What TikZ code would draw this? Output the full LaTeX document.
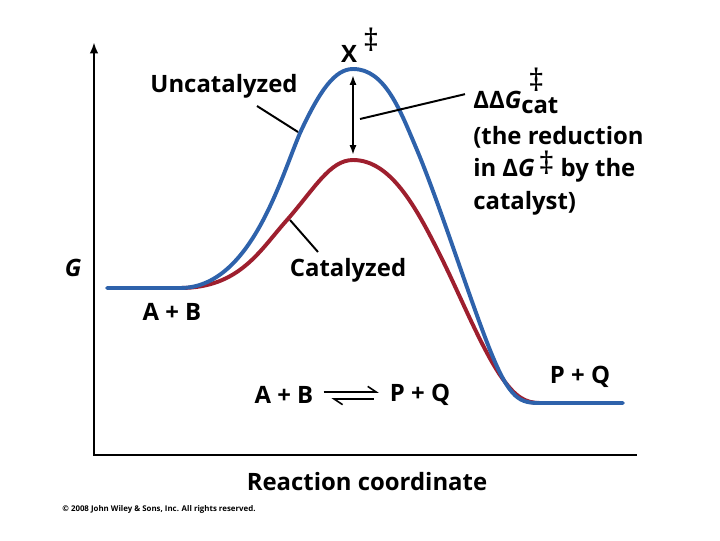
\documentclass[tikz,border=0pt]{standalone}
\usepackage{fontspec}
\setmainfont{Open Sans}
\usetikzlibrary{
	arrows.meta,
	positioning
}
\definecolor{UncatBlue}{RGB}{46,98,171}
\definecolor{CatRed}{RGB}{158,31,46}
\newcommand{\bigdag}{{\mdseries\fontsize{22}{22}\selectfont ‡}}

\begin{document}
\begin{tikzpicture}[x=0.025cm, y=-0.025cm,
		lbl/.style={font=\bfseries\fontsize{17}{23}\selectfont, inner sep=0pt},
		ptr/.style={line width=1.4pt},
		curve/.style={line width=2.8pt, line cap=round}]
		\useasboundingbox (0,0) rectangle (720,540);
		% 坐标轴
		\coordinate (origin) at (94,455);
		\coordinate (yTop) at (94,42);
		\coordinate (xEnd) at (637,455);
		\draw[line width=2pt, {Latex[length=8pt,width=6pt]}-] (yTop) -- (origin) -- (xEnd);
		\node[lbl, font=\bfseries\itshape\fontsize{17}{22}\selectfont] (gLbl) at (73,268) {G};
		\node[lbl] (rcLbl) at (367,482) {Reaction coordinate};
		% 催化
		\draw[curve, CatRed] (180,288) .. controls (240,288) and (260,250) .. (287,220)
			.. controls (315,188) and (330,160) .. (353,160)
			.. controls (390,160) and (415,205) .. (440,255)
			.. controls (460,295) and (480,345) .. (500,375)
			.. controls (515,397) and (525,403) .. (540,403);
		% 非催化
		\draw[curve, UncatBlue] (107,288) -- (180,288)
			.. controls (250,288) and (280,180) .. (300,133)
			.. controls (320,90) and (335,69) .. (353,69)
			.. controls (385,69) and (400,110) .. (417,150)
			.. controls (440,205) and (470,300) .. (490,350)
			.. controls (510,400) and (520,403) .. (540,403) -- (623,403);
		% 标注
		\node[lbl] (xTs) at (349,54) {X};
		\node[inner sep=0pt, right=4pt of xTs, yshift=10pt] (xDag) {\bigdag};
		\coordinate (tsUnc) at (353,75);
		\coordinate (tsCat) at (353,155);
		\draw[line width=1.4pt, {Latex[length=7pt,width=5pt]}-{Latex[length=7pt,width=5pt]}] (tsUnc) -- (tsCat);
		\node[lbl] (uncLbl) at (224,86) {Uncatalyzed};
		\coordinate (uncTip) at (298,132);
		\draw[ptr] ([shift={(33,20)}]uncLbl.center) -- (uncTip);
		\node[lbl] (catLbl) at (348,270) {Catalyzed};
		\coordinate (catTip) at (290,220);
		\draw[ptr] ([shift={(-30,-18)}]catLbl.center) -- (catTip);
		\node[lbl, anchor=base west] (ddgLbl) at (473,108) {ΔΔ\textit{G}\rlap{\raisebox{1.25ex}{\hspace{5pt}\bigdag}}\raisebox{-0.45ex}{cat}};
		\coordinate (ddgTip) at (360,119);
		\draw[ptr] ([shift={(-8,3)}]ddgLbl.west) -- (ddgTip);
		\node[lbl, align=left, anchor=north west] (redLbl) at (473,126) {(the reduction\\in Δ\textit{G}\,\smash{\raisebox{0.15ex}{\bigdag}} by the\\catalyst)};
		% 反应物与产物
		\node[lbl] (abLbl) at (172,312) {A + B};
		\node[lbl] (pqLbl) at (580,377) {P + Q};
		\node[lbl] (eqAB) at (284,395) {A + B};
		\node[lbl] (eqPQ) at (420,395) {P + Q};
		\draw[ptr, line width=1.1pt, -{Straight Barb[harpoon,length=6pt,width=8pt]}] ([shift={(10,-3)}]eqAB.east) -- ([shift={(-11,-3)}]eqPQ.west);
		\draw[ptr, line width=1.1pt, -{Straight Barb[harpoon,length=6pt,width=8pt]}] ([shift={(-16,4)}]eqPQ.west) -- ([shift={(18,4)}]eqAB.east);
		\node[font=\bfseries\fontsize{5.6}{7}\selectfont, inner sep=0pt] (copyLbl) at (159,509) {© 2008 John Wiley \& Sons, Inc. All rights reserved.};
	\end{tikzpicture}
\end{document}
